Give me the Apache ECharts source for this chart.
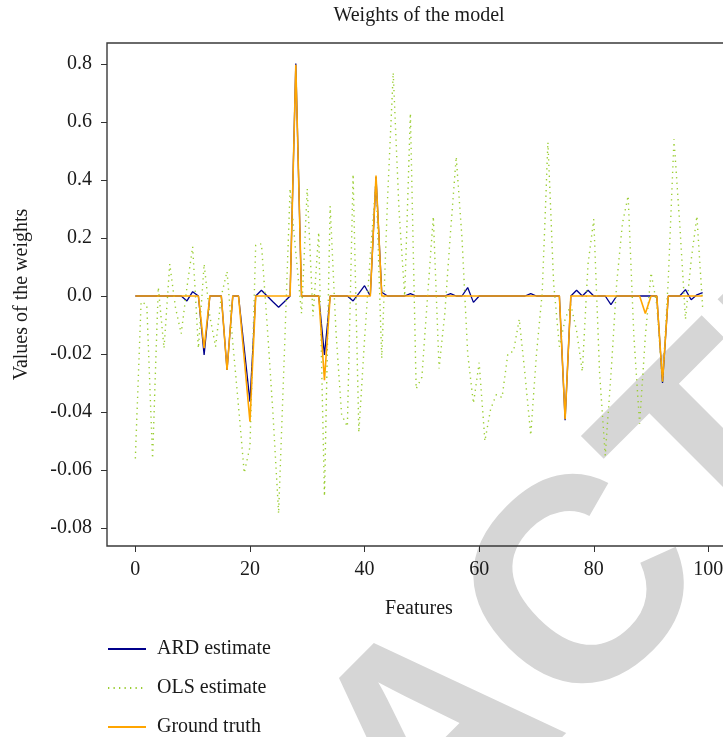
<!DOCTYPE html>
<html>
<head>
<meta charset="utf-8">
<title>Weights of the model</title>
<script src="https://cdn.jsdelivr.net/npm/echarts@6/dist/echarts.min.js"></script>
<style>
  html, body { margin: 0; padding: 0; overflow: hidden; background: #ffffff; }
  #chart { width: 731px; height: 760px; }
</style>
</head>
<body>
<div id="chart"></div>
<script>
// Feature indices (x positions)
const features = [
  0, 1, 2, 3, 4, 5, 6, 7, 8, 9,
  10, 11, 12, 13, 14, 15, 16, 17, 18, 19,
  20, 21, 22, 23, 24, 25, 26, 27, 28, 29,
  30, 31, 32, 33, 34, 35, 36, 37, 38, 39,
  40, 41, 42, 43, 44, 45, 46, 47, 48, 49,
  50, 51, 52, 53, 54, 55, 56, 57, 58, 59,
  60, 61, 62, 63, 64, 65, 66, 67, 68, 69,
  70, 71, 72, 73, 74, 75, 76, 77, 78, 79,
  80, 81, 82, 83, 84, 85, 86, 87, 88, 89,
  90, 91, 92, 93, 94, 95, 96, 97, 98, 99
];

// ARD estimate of the weights
const ardWeights = [
  0, 0, 0, 0, 0, 0, 0, 0, 0, -0.0017,
  0.015, 0, -0.0203, 0, 0, 0, -0.0255, 0, 0, -0.018,
  -0.0364, 0, 0.02, 0, -0.002, -0.0039, -0.002, 0, 0.802, 0,
  0, 0, 0, -0.0203, 0, 0, 0, 0, -0.0017, 0.009,
  0.0355, 0, 0.41, 0.0128, 0, 0, 0, 0, 0.008, 0,
  0, 0, 0, 0, 0, 0.008, 0, 0, 0.029, -0.0022,
  0, 0, 0, 0, 0, 0, 0, 0, 0, 0.008,
  0, 0, 0, 0, 0, -0.0428, 0, 0.02, 0, 0.02,
  0, 0, 0, -0.003, 0, 0, 0, 0, 0, 0,
  0, 0, -0.030, 0, 0, 0, 0.022, -0.0013, 0.004, 0.012
];

// OLS estimate of the weights
const olsWeights = [
  -0.056, -0.002, -0.003, -0.056, 0.03, -0.018, 0.11, -0.004, -0.013, 0.03,
  0.17, -0.018, 0.11, -0.007, -0.0175, 0.0, 0.085, -0.016, -0.038, -0.061,
  -0.052, 0.175, 0.18, -0.01, -0.04, -0.075, -0.02, 0.37, 0.15, -0.006,
  0.37, -0.007, 0.22, -0.069, 0.31, -0.012, -0.041, -0.045, 0.42, -0.047,
  -0.015, 0.14, 0.40, -0.0215, 0.33, 0.77, 0.3, 0.0, 0.63, -0.032,
  -0.028, 0.0, 0.274, -0.025, -0.006, 0.22, 0.48, 0.2, -0.02, -0.037,
  -0.023, -0.05, -0.039, -0.034, -0.035, -0.02, -0.019, -0.008, -0.027, -0.048,
  -0.02, 0.01, 0.53, 0.044, -0.0175, -0.008, -0.003, -0.012, -0.026, 0.11,
  0.265, -0.026, -0.055, -0.027, 0.044, 0.25, 0.345, -0.014, -0.044, -0.014,
  0.08, -0.003, -0.03, 0.055, 0.54, 0.25, -0.008, 0.124, 0.275, -0.004
];

// Ground-truth weights
const trueWeights = [
  0, 0, 0, 0, 0, 0, 0, 0, 0, 0,
  0, 0, -0.018, 0, 0, 0, -0.0255, 0, 0, -0.0215,
  -0.0433, 0, 0, 0, 0, 0, 0, 0, 0.797, 0,
  0, 0, 0, -0.029, 0, 0, 0, 0, 0, 0,
  0, 0, 0.415, 0, 0, 0, 0, 0, 0, 0,
  0, 0, 0, 0, 0, 0, 0, 0, 0, 0,
  0, 0, 0, 0, 0, 0, 0, 0, 0, 0,
  0, 0, 0, 0, 0, -0.0425, 0, 0, 0, 0,
  0, 0, 0, 0, 0, 0, 0, 0, 0, -0.006,
  0, 0, -0.0295, 0, 0, 0, 0, 0, 0, 0
];

// Axis ticks
const xTicks = [0, 20, 40, 60, 80, 100];
const yTicks = [-0.08, -0.06, -0.04, -0.02, 0, 0.2, 0.4, 0.6, 0.8];
const yTickLabels = ['-0.08', '-0.06', '-0.04', '-0.02', '0.0', '0.2', '0.4', '0.6', '0.8'];

// The vertical axis is split at zero: above it one step is 0.2, below it 0.02.
const POS_STEP = 0.2;
const NEG_STEP = 0.02;
function toAxis(v) { return v >= 0 ? v / POS_STEP : v / NEG_STEP; }

function pairs(values) {
  return features.map((f, i) => [f, toAxis(values[i])]);
}

const SERIF = '"Liberation Serif", "DejaVu Serif", serif';
const TEXT = '#1a1a1a';
const yTickPos = yTicks.map(toAxis);

const chart = echarts.init(document.getElementById('chart'), null, { renderer: 'canvas' });

chart.setOption({
  animation: false,
  backgroundColor: '#ffffff',
  title: {
    text: 'Weights of the model',
    left: 419,
    top: 6,
    padding: 0,
    textAlign: 'center',
    textStyle: { fontFamily: SERIF, fontSize: 20, fontWeight: 'normal', color: TEXT }
  },
  grid: {
    left: 107, top: 43, right: 0, bottom: 214,
    show: true, borderColor: '#3a3a3a', borderWidth: 1.4, backgroundColor: 'transparent'
  },
  xAxis: {
    type: 'value',
    min: -4.95, max: 103.95,
    name: 'Features',
    nameLocation: 'middle',
    nameGap: 53,
    nameTextStyle: { fontFamily: SERIF, fontSize: 20, color: TEXT },
    axisLine: { show: false, onZero: false },
    splitLine: { show: false },
    axisTick: { show: true, inside: false, length: 6, customValues: xTicks, lineStyle: { color: '#333', width: 1 } },
    axisLabel: { customValues: xTicks, margin: 14, fontFamily: SERIF, fontSize: 20, color: TEXT }
  },
  yAxis: {
    type: 'value',
    min: -4.31, max: 4.362,
    name: 'Values of the weights',
    nameLocation: 'middle',
    nameGap: 75,
    nameRotate: 90,
    nameTextStyle: { fontFamily: SERIF, fontSize: 20, color: TEXT },
    axisLine: { show: false, onZero: false },
    splitLine: { show: false },
    axisTick: { show: true, inside: false, length: 6, customValues: yTickPos, lineStyle: { color: '#333', width: 1 } },
    axisLabel: {
      customValues: yTickPos, margin: 15, fontFamily: SERIF, fontSize: 20, color: TEXT,
      formatter: function (val) {
        let best = 0;
        yTickPos.forEach((p, i) => { if (Math.abs(p - val) < Math.abs(yTickPos[best] - val)) best = i; });
        return yTickLabels[best];
      }
    }
  },
  legend: {
    orient: 'vertical',
    left: 107,
    top: 639,
    padding: 0,
    itemWidth: 38,
    itemHeight: 14,
    itemGap: 19,
    itemStyle: { opacity: 0 },
    textStyle: { fontFamily: SERIF, fontSize: 20, color: TEXT, lineHeight: 20, padding: [0, 0, 0, 6] },
    data: ['ARD estimate', 'OLS estimate', 'Ground truth']
  },
  graphic: [{
    type: 'text',
    silent: true,
    z: -5,
    x: 441, y: 745,
    rotation: 45 * Math.PI / 180,
    style: {
      text: 'RETRACTED',
      font: 'bold 290px "Liberation Sans", Arial, sans-serif',
      fill: '#d6d6d6',
      align: 'center',
      verticalAlign: 'middle'
    }
  }],
  series: [
    {
      name: 'ARD estimate', type: 'line', data: pairs(ardWeights),
      symbol: 'none', z: 3,
      lineStyle: { color: '#00008b', width: 1.3 }, itemStyle: { color: '#00008b' }
    },
    {
      name: 'OLS estimate', type: 'line', data: pairs(olsWeights),
      symbol: 'none', z: 4,
      lineStyle: { color: '#9acd32', width: 1.4, type: [1.3, 4.2] }, itemStyle: { color: '#9acd32' }
    },
    {
      name: 'Ground truth', type: 'line', data: pairs(trueWeights),
      symbol: 'none', z: 5,
      lineStyle: { color: '#ffa500', width: 1.6 }, itemStyle: { color: '#ffa500' }
    }
  ]
});
</script>
</body>
</html>
